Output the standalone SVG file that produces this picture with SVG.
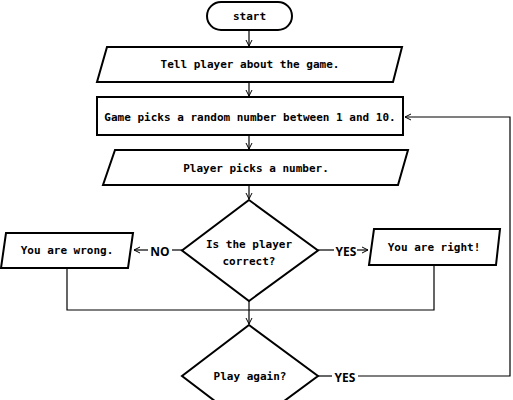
<svg xmlns="http://www.w3.org/2000/svg" width="513" height="400" viewBox="0 0 513 400">
<style>
.shape{fill:#fff;stroke:#000;stroke-width:2}
.t{font-family:"DejaVu Sans Mono","Liberation Mono",monospace;font-size:11px;font-weight:bold;text-anchor:middle;dominant-baseline:central;fill:#000}
.lbl{font-family:"Open Sans","Liberation Sans",sans-serif;font-size:12px;font-weight:bold;text-anchor:middle;dominant-baseline:central;fill:#000}
.c{fill:none;stroke:#000;stroke-width:1.2}
</style>
<defs>
<marker id="a" markerWidth="8" markerHeight="8" refX="7" refY="4" orient="auto" markerUnits="userSpaceOnUse">
<path d="M1,1 L7,4 L1,7" fill="none" stroke="#000" stroke-width="1"/>
</marker>
</defs>
<rect width="513" height="400" fill="#fff"/>
<g id="connectors">
<path class="c" d="M249,30 V46" marker-end="url(#a)"/>
<path class="c" d="M249,82 V96" marker-end="url(#a)"/>
<path class="c" d="M249,135 V149" marker-end="url(#a)"/>
<path class="c" d="M249,185 V199" marker-end="url(#a)"/>
<path class="c" d="M182,250 H172"/>
<path class="c" d="M148,250 H134" marker-end="url(#a)"/>
<path class="c" d="M318,250 H334"/>
<path class="c" d="M357,250 H368" marker-end="url(#a)"/>
<path class="c" d="M67,268 V310 H434 V265"/>
<path class="c" d="M249,301 V324" marker-end="url(#a)"/>
<path class="c" d="M318,376 H332"/>
<path class="c" d="M358,376 H510 V117 H405" marker-end="url(#a)"/>
<text class="lbl" x="160" y="251">NO</text>
<text class="lbl" x="346" y="251">YES</text>
<text class="lbl" x="345" y="377">YES</text>
</g>
<g id="start">
<rect class="shape" x="207" y="2" width="85" height="28" rx="14"/>
<text class="t" x="249.5" y="16">start</text>
</g>
<g id="tell">
<polygon class="shape" points="107,47 402,47 393,82 97,82"/>
<text class="t" x="250" y="64.5">Tell player about the game.</text>
</g>
<g id="pick">
<rect class="shape" x="97" y="97" width="306" height="38"/>
<text class="t" x="250" y="117">Game picks a random number between 1 and 10.</text>
</g>
<g id="player">
<polygon class="shape" points="115,150 408,150 398,185 103,185"/>
<text class="t" x="256" y="168">Player picks a number.</text>
</g>
<g id="correct">
<polygon class="shape" points="249,200 318,250.5 249,301 182,250.5"/>
<text class="t" x="249" y="244">Is the player</text>
<text class="t" x="249" y="261">correct?</text>
</g>
<g id="wrong">
<polygon class="shape" points="6,233 133,233 128,268 1,268"/>
<text class="t" x="67" y="250">You are wrong.</text>
</g>
<g id="right">
<polygon class="shape" points="374,229 500,229 496,265 369,265"/>
<text class="t" x="434" y="247">You are right!</text>
</g>
<g id="again">
<polygon class="shape" points="249,325 318,376 249,427 182,376"/>
<text class="t" x="250" y="376">Play again?</text>
</g>
</svg>
